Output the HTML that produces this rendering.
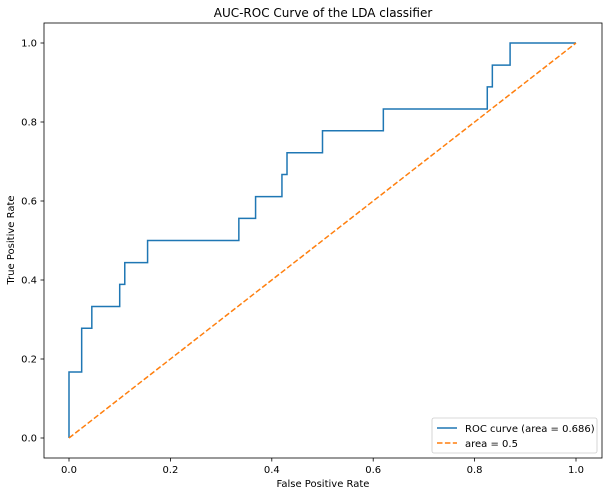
<!DOCTYPE html>
<html><head><meta charset="utf-8"><style>
body{margin:0;background:#fff;width:609px;height:496px;overflow:hidden}
text{font-family:"DejaVu Sans","Liberation Sans",sans-serif;fill:#000}
</style></head><body>
<svg id="chart" width="609" height="496">
<text x="323" y="17" font-size="12" text-anchor="middle">AUC-ROC Curve of the LDA classifier</text>
<g id="ticks"></g>
<g id="plot"></g>
<rect x="44" y="23" width="558" height="435" fill="none" stroke="#000" stroke-width="0.8"/>
<text x="323" y="487" font-size="10" text-anchor="middle">False Positive Rate</text>
<text transform="translate(14,240) rotate(-90)" font-size="10" text-anchor="middle">True Positive Rate</text>
<g>
<rect x="432" y="418" width="165" height="35" rx="2" fill="#fff" stroke="#ccc" stroke-width="0.8"/>
<line x1="437" y1="428" x2="457" y2="428" stroke="#1f77b4" stroke-width="1.5"/>
<text x="465" y="432" font-size="10">ROC curve (area = 0.686)</text>
<line x1="437" y1="443" x2="457" y2="443" stroke="#ff7f0e" stroke-width="1.5" stroke-dasharray="5.5,2.4"/>
<text x="465" y="447" font-size="10">area = 0.5</text>
</g>
</svg>
<script>
const fpr=[0,0,0.025,0.025,0.045,0.045,0.1,0.1,0.11,0.11,0.155,0.155,0.335,0.335,0.368,0.368,0.42,0.42,0.43,0.43,0.5,0.5,0.62,0.62,0.825,0.825,0.835,0.835,0.87,0.87,1];
const tpr=[0,0.167,0.167,0.278,0.278,0.333,0.333,0.389,0.389,0.444,0.444,0.5,0.5,0.556,0.556,0.611,0.611,0.667,0.667,0.722,0.722,0.778,0.778,0.833,0.833,0.889,0.889,0.944,0.944,1,1];
const chanceX=[0,1];
const chanceY=[0,1];
const tickVals=[0,0.2,0.4,0.6,0.8,1.0];
const tickLabels=["0.0","0.2","0.4","0.6","0.8","1.0"];
const NS="http://www.w3.org/2000/svg";
const sx=v=>69+v*507, sy=v=>438-v*395;
const ticks=document.getElementById('ticks'), plot=document.getElementById('plot');
function mk(t,a,p){const e=document.createElementNS(NS,t);for(const k in a)e.setAttribute(k,a[k]);p.appendChild(e);return e;}
tickVals.forEach((v,i)=>{
 const l=mk('line',{x1:sx(v),x2:sx(v),y1:458,y2:461.5,stroke:'#000','stroke-width':0.8},ticks);
 
 
 const t=mk('text',{x:sx(v),y:473,'font-size':10,'text-anchor':'middle'},ticks);t.textContent=tickLabels[i];
 
 
 const l2=mk('line',{x1:40.5,x2:44,y1:sy(v),y2:sy(v),stroke:'#000','stroke-width':0.8},ticks);
 
 
 const t2=mk('text',{x:37,y:sy(v)+3.5,'font-size':10,'text-anchor':'end'},ticks);t2.textContent=tickLabels[i];
 
 
});
const roc=mk('polyline',{points:fpr.map((x,i)=>sx(x)+','+sy(tpr[i])).join(' '),fill:'none',stroke:'#1f77b4','stroke-width':1.5},plot);


const ch=mk('polyline',{points:chanceX.map((x,i)=>sx(x)+','+sy(chanceY[i])).join(' '),fill:'none',stroke:'#ff7f0e','stroke-width':1.5,'stroke-dasharray':'5.5,2.4'},plot);


</script>
</body></html>
